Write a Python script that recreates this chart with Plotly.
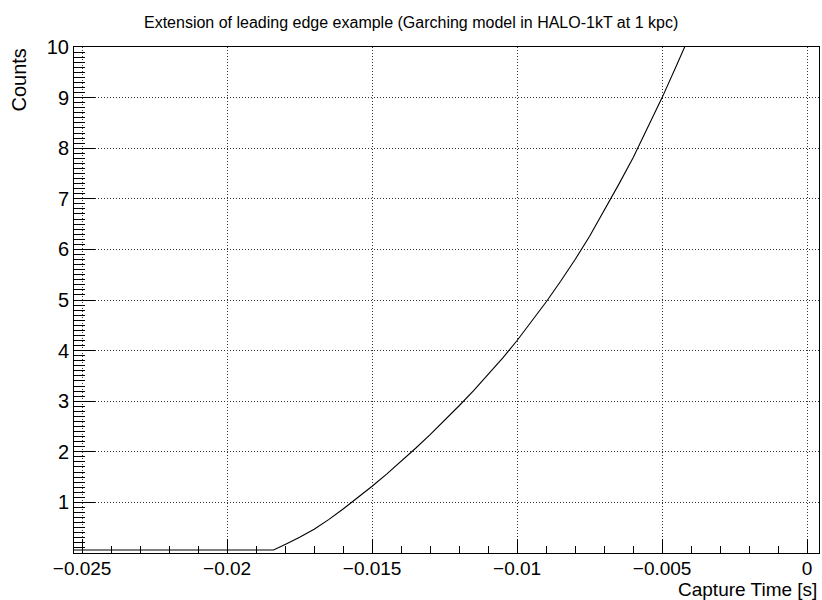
import plotly.graph_objects as go

# Data
capture_time = [-0.0253, -0.0184, -0.0180, -0.0175, -0.0170, -0.0165, -0.0160, -0.0155, -0.0150,
                -0.0145, -0.0140, -0.0135, -0.0130, -0.0125, -0.0120, -0.0115, -0.0110,
                -0.0105, -0.0100, -0.0095, -0.0090, -0.0085, -0.0080, -0.0075, -0.0070,
                -0.0065, -0.0060, -0.0055, -0.0050, -0.0045, -0.0040]
counts = [0.06, 0.06, 0.17, 0.31, 0.47, 0.66, 0.87, 1.09, 1.32,
          1.56, 1.81, 2.07, 2.34, 2.62, 2.91, 3.21, 3.52,
          3.85, 4.20, 4.57, 4.96, 5.37, 5.80, 6.26, 6.76,
          7.28, 7.81, 8.39, 9.00, 9.64, 10.29]

x_tickvals = [-0.025, -0.02, -0.015, -0.01, -0.005, 0]
x_ticktext = ["\u22120.025", "\u22120.02", "\u22120.015", "\u22120.01", "\u22120.005", "0"]
y_tickvals = [1, 2, 3, 4, 5, 6, 7, 8, 9, 10]
y_ticktext = ["1", "2", "3", "4", "5", "6", "7", "8", "9", "10"]

title_text = "Extension of leading edge example (Garching model in HALO-1kT at 1 kpc)"
x_title = "Capture Time [s]"
y_title = "Counts"

FONT = "Liberation Sans, Arial, Helvetica, sans-serif"

fig = go.Figure()
fig.add_trace(go.Scatter(x=capture_time, y=counts, mode="lines",
                         line=dict(color="black", width=1.1),
                         showlegend=False))

fig.update_layout(
    width=822, height=600,
    margin=dict(l=74, r=3, t=47, b=47),
    paper_bgcolor="white", plot_bgcolor="white",
    font=dict(family=FONT, color="black"),
    showlegend=False,
)

grid_dash = "1px,2px"

fig.update_xaxes(
    range=[-0.02528, 0.00041],
    tickvals=x_tickvals, ticktext=x_ticktext,
    tickfont=dict(size=19, family=FONT),
    ticks="inside", ticklen=14, tickwidth=1, tickcolor="black",
    ticklabelstandoff=-2,
    minor=dict(dtick=0.001, tick0=0, ticks="inside", ticklen=7, tickcolor="black", tickwidth=1, showgrid=False),
    showline=True, linecolor="black", linewidth=1, mirror=True,
    showgrid=True, gridcolor="#333333", griddash=grid_dash, gridwidth=1,
    zeroline=False,
)
fig.update_yaxes(
    range=[0, 10],
    tickvals=y_tickvals, ticktext=y_ticktext,
    tickfont=dict(size=20, family=FONT),
    ticks="inside", ticklen=21, tickwidth=1, tickcolor="black",
    minor=dict(dtick=0.1, tick0=0, ticks="inside", ticklen=11, tickcolor="black", tickwidth=1, showgrid=False),
    showline=True, linecolor="black", linewidth=1, mirror=True,
    showgrid=True, gridcolor="#333333", griddash=grid_dash, gridwidth=1,
    zeroline=False,
)

fig.add_annotation(text=title_text, x=(411 - 74) / 745.0, y=1, xref="paper", yref="paper",
                   xanchor="center", yanchor="middle", yshift=25, showarrow=False,
                   font=dict(size=16, family=FONT, color="black"))
fig.add_annotation(text=x_title, x=1, y=0, xref="paper", yref="paper",
                   xanchor="right", yanchor="middle", yshift=-36, showarrow=False,
                   font=dict(size=19, family=FONT, color="black"))
fig.add_annotation(text=y_title, x=0, y=1, xref="paper", yref="paper",
                   xanchor="right", yanchor="top", xshift=-43, textangle=-90, showarrow=False,
                   font=dict(size=20, family=FONT, color="black"))

fig.write_html("out.html")
